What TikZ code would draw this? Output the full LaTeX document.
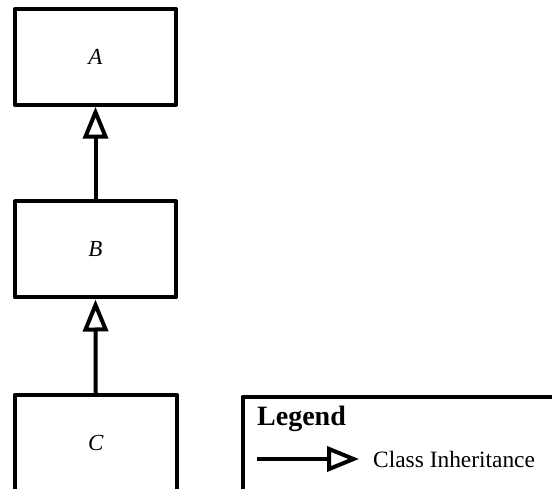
\documentclass[tikz,border=0pt]{standalone}
\usepackage{fontspec}
\setmainfont{Liberation Serif}
\usetikzlibrary{arrows.meta}
\begin{document}
\begin{tikzpicture}[x=1pt,y=-1pt,
  classbox/.style={draw,line width=4pt,line join=round,minimum width=161pt,minimum height=96pt,inner sep=0pt,font=\fontsize{23}{27}\selectfont\itshape},
  inherit/.style={line width=4pt,-{Triangle[open,length=32pt,width=25pt,line join=miter]}},
  legendbox/.style={draw,line width=4pt,line join=round,minimum width=330pt,minimum height=96pt,inner sep=0pt},
  plain/.style={inner sep=0pt}]
\useasboundingbox (0,0) rectangle (552,489);
\clip (0,0) rectangle (552,489);
% class boxes
\node[classbox] (A) at (95.5,56.75) {A};
\node[classbox] (B) at (95.5,249.5) {B};
\node[classbox,minimum width=162.5pt] (C) at (95.75,443) {C};
% inheritance arrows
\draw[inherit] (B.north) -- (A.south);
\draw[inherit] (C.north) -- (B.south);
% legend
\node[legendbox,anchor=north west] (L) at (240.5,395) {};
\node[plain,anchor=base west,font=\fontsize{28}{32}\selectfont\bfseries] (lt) at (257,425) {Legend};
\coordinate (ls) at (257,459);
\coordinate (le) at (359,459);
\draw[inherit] (ls) -- (le);
\node[plain,anchor=base west,font=\fontsize{23.4}{27}\selectfont] (ci) at (373,467) {Class Inheritance};
\end{tikzpicture}
\end{document}
